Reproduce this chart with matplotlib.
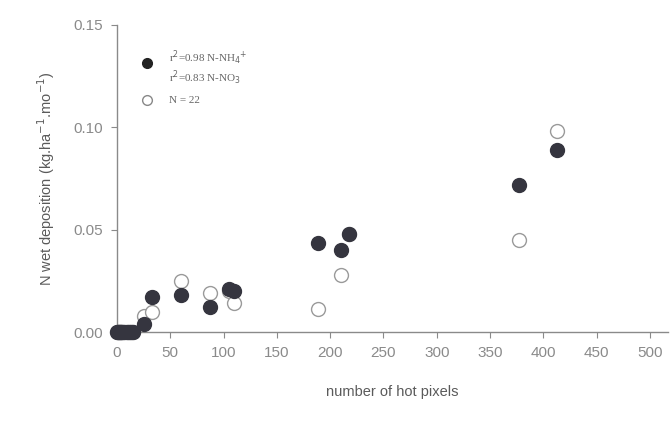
import numpy as np
import matplotlib
matplotlib.use("Agg")
import matplotlib.pyplot as plt

# hot pixels vs wet deposition
nh4_x = [0, 1, 2, 3, 4, 5, 7, 9, 11, 13, 15, 25, 33, 60, 87, 105, 110, 189, 210, 218, 377, 413]
nh4_y = [0.0, 0.0, 0.0, 0.0, 0.0, 0.0, 0.0, 0.0, 0.0, 0.0, 0.0, 0.004, 0.017, 0.018, 0.012,
         0.021, 0.020, 0.0435, 0.040, 0.048, 0.072, 0.089]
no3_x = [0, 1, 2, 3, 4, 5, 7, 9, 11, 13, 15, 25, 33, 60, 87, 105, 110, 189, 210, 218, 377, 413]
no3_y = [0.0, 0.0, 0.0, 0.0, 0.0, 0.0, 0.0, 0.0, 0.0, 0.0, 0.0, 0.008, 0.010, 0.025, 0.019,
         0.020, 0.014, 0.011, 0.028, 0.048, 0.045, 0.098]

x_ticks = [0, 50, 100, 150, 200, 250, 300, 350, 400, 450, 500]
y_ticks = [0.00, 0.05, 0.10, 0.15]
y_labels = ["0.00", "0.05", "0.10", "0.15"]

grey = "#8a8a8a"
plt.rcParams["font.family"] = ["Liberation Sans", "DejaVu Sans"]

fig = plt.figure(figsize=(6.71, 4.28), dpi=100, facecolor="w")
ax = fig.add_axes([117 / 671, 96 / 428, 551 / 671, 307 / 428])

ax.plot(no3_x, no3_y, "o", ms=10, mfc="w", mec="#9a9a9a", mew=1.0, clip_on=False, zorder=2)
ax.plot(nh4_x, nh4_y, "o", ms=10, mfc="#35353f", mec="#35353f", clip_on=False, zorder=3)

ax.set_xlim(0, 517)
ax.set_ylim(0, 0.15)
ax.set_xticks(x_ticks)
ax.set_yticks(y_ticks)
ax.set_yticklabels(y_labels)
for s in ["top", "right"]:
    ax.spines[s].set_visible(False)
for s in ["left", "bottom"]:
    ax.spines[s].set_color("#8a8a8a")
    ax.spines[s].set_linewidth(1.0)
ax.tick_params(colors="#8a8a8a", labelcolor=grey, labelsize=11, length=4, pad=6)

ax.set_xlabel("number of hot pixels", fontsize=10.5, color="#5a5a5a", labelpad=18)
ax.set_ylabel("N wet deposition (kg.ha$^{-1}$.mo$^{-1}$)", fontsize=10.5, color="#5a5a5a", labelpad=12)

# legend-like annotation in the upper left
lx = 0.055
ax.plot([lx * 517], [0.1315], "o", ms=7, mfc="#222222", mec="#222222", clip_on=False)
ax.plot([lx * 517], [0.1135], "o", ms=7, mfc="w", mec="#888888", clip_on=False)
tkw = dict(fontsize=8, color="#666666", family=["Liberation Serif", "DejaVu Serif"],
           transform=ax.transAxes, va="center")
ax.text(0.094, 0.893, "r$^{2}$=0.98 N-NH$_{4}$$^{+}$", **tkw)
ax.text(0.094, 0.828, "r$^{2}$=0.83 N-NO$_{3}$", **tkw)
ax.text(0.094, 0.755, "N = 22", **tkw)

fig.savefig("out.png", dpi=100)
